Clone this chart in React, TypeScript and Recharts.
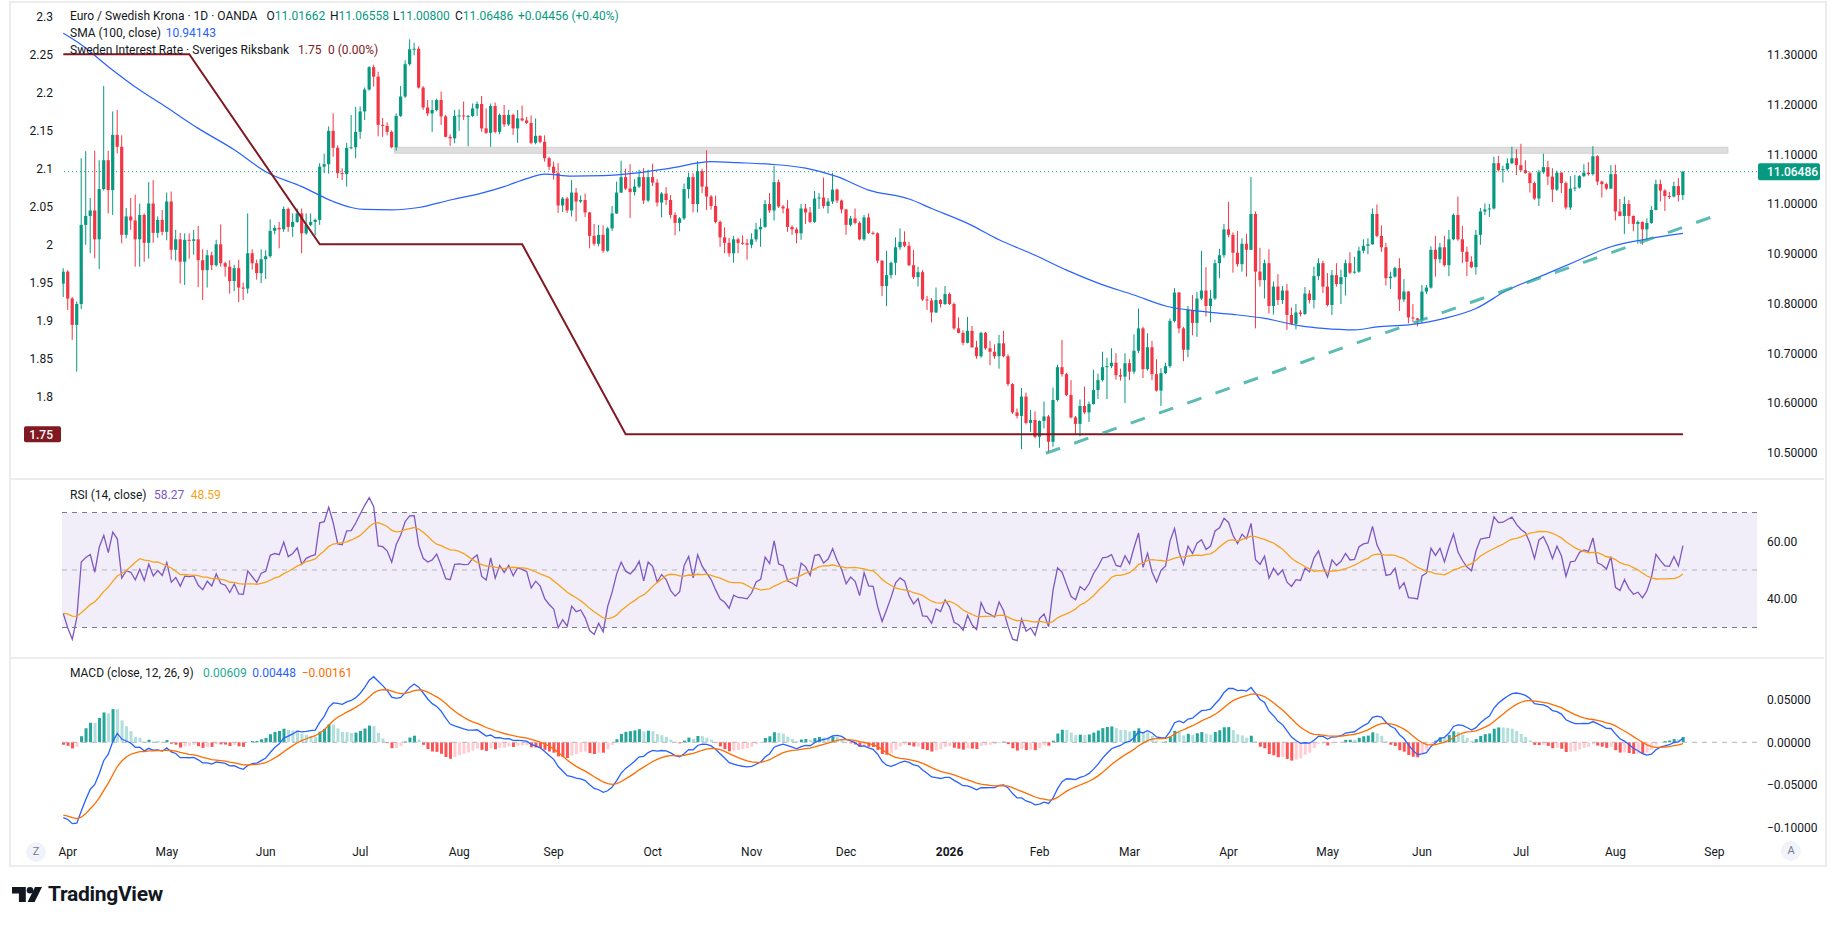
import React from 'react'
import {
  ComposedChart, Bar, Line, XAxis, YAxis, ReferenceLine, ReferenceArea, Cell
} from 'recharts'

const FONT = 'Roboto, "Liberation Sans", sans-serif'
const TEXT = '#131722'
const UP = '#089981'
const DOWN = '#f23645'
const RATE = '#801922'
const SMA = '#2962ff'
const RSI_C = '#7e57c2'
const RSI_MA = '#f7a21b'
const SIGNAL = '#ff6d00'

// daily closes, Mar 31 2025 .. Aug 21 2026 (open = previous close)
const firstOpen = 10.84
const closes = [
  10.864, 10.810, 10.757, 10.799, 10.958, 10.976, 10.987, 10.929, 11.030, 11.088,
  11.028, 11.139, 11.115, 10.938, 10.975, 10.967, 10.929, 10.978, 10.922, 11.001,
  10.942, 10.968, 10.944, 11.005, 10.908, 10.929, 10.884, 10.928, 10.926, 10.929,
  10.887, 10.867, 10.897, 10.877, 10.919, 10.881, 10.874, 10.845, 10.871, 10.832,
  10.830, 10.901, 10.881, 10.861, 10.889, 10.895, 10.946, 10.952, 10.949, 10.990,
  10.954, 10.964, 10.981, 10.941, 10.958, 10.964, 10.968, 11.075, 11.080, 11.147,
  11.113, 11.062, 11.060, 11.113, 11.114, 11.145, 11.186, 11.230, 11.275, 11.256,
  11.159, 11.157, 11.145, 11.114, 11.177, 11.216, 11.281, 11.311, 11.312, 11.234,
  11.194, 11.182, 11.189, 11.209, 11.176, 11.135, 11.132, 11.177, 11.178, 11.176,
  11.177, 11.192, 11.201, 11.152, 11.143, 11.197, 11.145, 11.179, 11.160, 11.179,
  11.152, 11.172, 11.168, 11.163, 11.123, 11.137, 11.125, 11.092, 11.075, 11.062,
  10.997, 11.011, 10.987, 11.023, 11.005, 11.008, 10.983, 10.936, 10.920, 10.938,
  10.906, 10.951, 10.981, 11.023, 11.054, 11.031, 11.024, 11.035, 11.054, 11.007,
  11.054, 11.043, 11.003, 11.021, 11.008, 10.978, 10.962, 10.971, 11.030, 11.054,
  11.000, 11.066, 11.035, 11.015, 10.996, 10.964, 10.933, 10.922, 10.901, 10.929,
  10.922, 10.921, 10.918, 10.929, 10.949, 10.954, 11.000, 10.987, 11.044, 10.995,
  10.991, 10.954, 10.949, 10.941, 10.991, 10.983, 10.964, 11.011, 11.013, 10.996,
  11.005, 11.029, 11.007, 10.989, 10.958, 10.971, 10.962, 10.929, 10.973, 10.942,
  10.941, 10.886, 10.835, 10.857, 10.882, 10.913, 10.924, 10.916, 10.877, 10.853,
  10.863, 10.808, 10.806, 10.782, 10.807, 10.799, 10.819, 10.799, 10.750, 10.741,
  10.721, 10.745, 10.712, 10.694, 10.741, 10.710, 10.703, 10.694, 10.720, 10.694,
  10.638, 10.581, 10.574, 10.613, 10.560, 10.566, 10.532, 10.564, 10.573, 10.522,
  10.606, 10.672, 10.658, 10.616, 10.571, 10.558, 10.594, 10.581, 10.598, 10.626,
  10.646, 10.672, 10.674, 10.681, 10.656, 10.653, 10.680, 10.663, 10.705, 10.750,
  10.668, 10.712, 10.658, 10.625, 10.660, 10.674, 10.765, 10.822, 10.750, 10.707,
  10.787, 10.761, 10.810, 10.826, 10.795, 10.810, 10.881, 10.897, 10.949, 10.938,
  10.902, 10.879, 10.920, 10.908, 10.980, 10.864, 10.847, 10.881, 10.795, 10.834,
  10.807, 10.826, 10.777, 10.759, 10.782, 10.779, 10.820, 10.807, 10.855, 10.881,
  10.834, 10.797, 10.857, 10.839, 10.853, 10.881, 10.862, 10.864, 10.906, 10.916,
  10.919, 10.980, 10.936, 10.913, 10.851, 10.854, 10.871, 10.808, 10.824, 10.772,
  10.770, 10.767, 10.824, 10.832, 10.908, 10.889, 10.913, 10.877, 10.929, 10.978,
  10.929, 10.904, 10.884, 10.873, 10.938, 10.985, 10.989, 10.991, 11.082, 11.068,
  11.070, 11.082, 11.092, 11.078, 11.068, 11.062, 11.042, 11.011, 11.064, 11.074,
  11.055, 11.029, 11.063, 11.042, 10.993, 11.031, 11.033, 11.056, 11.063, 11.060,
  11.096, 11.045, 11.040, 11.031, 11.060, 10.985, 10.976, 11.000, 10.976, 10.960,
  10.964, 10.949, 10.962, 10.988, 11.040, 11.027, 11.016, 11.015, 11.036, 11.018,
  11.065,
]

// wick lengths beyond the body, in 0.001 units
const wickUp = [
  7, 3, 3, 5, 134, 130, 25, 120, 58, 149,
  19, 47, 50, 23, 17, 37, 52, 23, 3, 43,
  47, 7, 20, 18, 20, 19, 13, 13, 13, 19,
  27, 22, 11, 7, 9, 40, 3, 13, 7, 17,
  10, 80, 8, 7, 20, 12, 23, 5, 12, 5,
  3, 17, 10, 10, 23, 17, 3, 7, 21, 9,
  35, 5, 10, 10, 65, 50, 10, 4, 2, 5,
  10, 14, 7, 3, 5, 21, 8, 20, 12, 5,
  3, 15, 20, 3, 17, 3, 5, 12, 12, 28,
  2, 10, 5, 16, 40, 5, 7, 3, 20, 10,
  3, 17, 26, 7, 15, 35, 1, 13, 3, 10,
  20, 3, 3, 25, 9, 9, 13, 1, 24, 20,
  19, 3, 15, 22, 33, 17, 49, 15, 15, 18,
  15, 27, 7, 3, 13, 10, 5, 3, 11, 9,
  8, 20, 5, 73, 3, 21, 3, 20, 10, 7,
  3, 15, 9, 12, 13, 17, 8, 22, 33, 5,
  3, 17, 3, 4, 9, 9, 11, 15, 9, 40,
  7, 33, 2, 2, 1, 5, 20, 3, 5, 8,
  3, 2, 1, 49, 2, 20, 27, 21, 8, 31,
  11, 4, 7, 5, 25, 2, 16, 3, 3, 22,
  5, 28, 10, 13, 2, 2, 15, 15, 17, 25,
  4, 2, 8, 17, 8, 20, 17, 1, 30, 3,
  25, 5, 55, 3, 30, 3, 13, 39, 5, 41,
  13, 31, 17, 29, 19, 13, 20, 8, 33, 40,
  3, 28, 13, 30, 10, 7, 5, 9, 1, 3,
  8, 30, 13, 80, 47, 17, 7, 13, 11, 55,
  5, 44, 11, 20, 74, 5, 48, 7, 28, 10,
  25, 9, 13, 15, 17, 5, 13, 7, 19, 10,
  5, 27, 10, 24, 15, 7, 22, 30, 8, 13,
  12, 11, 19, 21, 9, 10, 3, 20, 25, 1,
  27, 1, 13, 5, 7, 28, 9, 23, 19, 3,
  37, 27, 10, 11, 10, 7, 12, 9, 13, 15,
  7, 10, 23, 18, 43, 20, 3, 3, 5, 27,
  13, 17, 4, 1, 3, 25, 25, 2, 17, 21,
  20, 2, 2, 3, 18, 19, 25, 15, 8, 1,
  3, 1, 9, 8, 9, 9, 3, 8, 9, 16,
  1,
]
const wickDn = [
  27, 23, 30, 94, 10, 40, 75, 38, 60, 3,
  47, 50, 13, 17, 7, 19, 55, 55, 38, 32,
  20, 10, 7, 17, 20, 22, 44, 47, 36, 28,
  54, 60, 35, 10, 3, 7, 20, 25, 20, 29,
  23, 10, 13, 13, 20, 40, 3, 7, 38, 5,
  10, 20, 2, 40, 3, 3, 27, 10, 13, 19,
  18, 10, 12, 25, 3, 22, 14, 17, 2, 20,
  23, 22, 7, 2, 7, 2, 3, 3, 12, 2,
  5, 5, 37, 3, 17, 1, 15, 10, 30, 7,
  60, 2, 15, 7, 2, 28, 3, 5, 5, 3,
  13, 29, 2, 2, 3, 3, 3, 7, 7, 13,
  15, 13, 5, 12, 40, 3, 9, 25, 4, 5,
  4, 2, 5, 1, 1, 3, 52, 7, 3, 7,
  3, 7, 8, 30, 10, 7, 25, 17, 3, 19,
  17, 17, 13, 27, 7, 3, 19, 21, 7, 19,
  21, 3, 30, 7, 5, 35, 2, 5, 20, 3,
  10, 10, 11, 20, 13, 23, 2, 2, 21, 5,
  15, 5, 5, 8, 20, 3, 3, 2, 3, 2,
  3, 5, 20, 40, 7, 25, 5, 3, 2, 4,
  19, 3, 19, 20, 1, 7, 2, 2, 3, 1,
  5, 1, 1, 5, 3, 3, 27, 5, 25, 2,
  4, 3, 5, 67, 3, 18, 3, 22, 15, 20,
  10, 3, 5, 2, 2, 20, 25, 3, 19, 1,
  18, 3, 64, 4, 9, 8, 53, 17, 5, 5,
  18, 3, 12, 2, 31, 2, 3, 3, 10, 23,
  15, 25, 28, 3, 21, 33, 3, 30, 5, 5,
  40, 5, 15, 54, 1, 114, 13, 37, 15, 17,
  10, 8, 30, 2, 11, 5, 2, 7, 17, 8,
  13, 3, 20, 5, 40, 37, 3, 2, 2, 5,
  17, 1, 3, 9, 15, 22, 2, 23, 5, 12,
  7, 13, 7, 5, 2, 35, 8, 3, 22, 2,
  3, 23, 29, 2, 15, 20, 7, 15, 2, 3,
  25, 3, 2, 20, 3, 1, 19, 3, 15, 3,
  17, 25, 3, 20, 4, 5, 5, 2, 2, 3,
  3, 7, 27, 3, 1, 18, 1, 36, 16, 15,
  40, 31, 23, 2, 1, 22, 30, 5, 2, 13,
  10,
]

// SMA(100) (it needs history before the window)
const smaIdx = [0, 4, 10, 17, 23, 30, 38, 45, 53, 60, 64, 67, 73, 79, 86, 93, 98, 103, 107, 113,
  120, 127, 135, 144, 150, 157, 165, 172, 179, 188, 193, 201, 208, 216, 223, 230, 238, 245, 253, 260,
  267, 275, 280, 287, 292, 299, 307, 314, 321, 329, 336, 344, 351, 360]
const smaVal = [11.343, 11.320, 11.276, 11.229, 11.194, 11.152, 11.109, 11.065, 11.035, 11.005,
  10.993, 10.989, 10.988, 10.993, 11.008, 11.022, 11.035, 11.051, 11.060, 11.056,
  11.057, 11.062, 11.072, 11.085, 11.083, 11.080, 11.072, 11.055, 11.028, 11.010,
  10.991, 10.961, 10.928, 10.897, 10.867, 10.841, 10.817, 10.795, 10.784, 10.778,
  10.770, 10.755, 10.750, 10.747, 10.753, 10.757, 10.770, 10.790, 10.827, 10.857,
  10.884, 10.914, 10.928, 10.941]

// Riksbank policy rate (left scale)
const rateIdx = [0, 28, 57, 102, 125, 360]
const rateVal = [2.25, 2.25, 2.0, 2.0, 1.75, 1.75]

// drawn trend line and resistance zone
const trendIdx = [218.4, 366.6]
const trendVal = [10.499, 10.9745]
const zoneIdx = [73.6, 370]
const zoneVal = [11.102, 11.114]

const lastClose = 11.06486
const lastRate = 1.75

const monthIdx = [1, 23, 45, 66, 88, 109, 131, 153, 174, 197, 217, 237, 259, 281, 302, 324, 345, 367]
const monthLabels = ['Apr', 'May', 'Jun', 'Jul', 'Aug', 'Sep', 'Oct', 'Nov', 'Dec', '2026',
  'Feb', 'Mar', 'Apr', 'May', 'Jun', 'Jul', 'Aug', 'Sep']

const priceTicks = [10.5, 10.6, 10.7, 10.8, 10.9, 11.0, 11.1, 11.2, 11.3]
const rateTicks = [1.8, 1.85, 1.9, 1.95, 2.0, 2.05, 2.1, 2.15, 2.2, 2.25, 2.3]
const rsiTicks = [40, 60]
const macdTicks = [-0.1, -0.05, 0, 0.05]

// indicator state at the first bar
const rsiSeed = { gain: 0.0075, loss: 0.0175, ma: 35 }
const macdSeed = { ema12: 10.93, ema26: 11.02, signal: -0.085 }

const X_DOMAIN: [number, number] = [-0.289, 376.46]

type Row = {
  i: number; o: number; h: number; l: number; c: number; range: [number, number]
  rsi?: number; rsiMa?: number; macd?: number; signal?: number; hist?: number; histColor?: string
}

const rows: Row[] = closes.map((c, i) => {
  const o = i === 0 ? firstOpen : closes[i - 1]
  const h = Math.max(o, c) + wickUp[i] / 1000
  const l = Math.min(o, c) - wickDn[i] / 1000
  return { i, o, h, l, c, range: [l, h] }
})

{
  let g = rsiSeed.gain
  let ls = rsiSeed.loss
  const rsiArr: number[] = []
  rows.forEach((r) => {
    const ch = r.c - r.o
    g = (g * 13 + Math.max(ch, 0)) / 14
    ls = (ls * 13 + Math.max(-ch, 0)) / 14
    r.rsi = 100 - 100 / (1 + g / ls)
    rsiArr.push(r.rsi)
  })
  rows.forEach((r, i) => {
    const from = Math.max(0, i - 13)
    const win = rsiArr.slice(from, i + 1)
    const missing = 14 - win.length
    r.rsiMa = (win.reduce((a, b) => a + b, 0) + missing * rsiSeed.ma) / 14
  })
  let e12 = macdSeed.ema12
  let e26 = macdSeed.ema26
  let sig = macdSeed.signal
  let prevHist: number | null = null
  rows.forEach((r) => {
    e12 += (r.c - e12) * 2 / 13
    e26 += (r.c - e26) * 2 / 27
    const m = e12 - e26
    sig += (m - sig) * 0.2
    const hh = m - sig
    const p = prevHist === null ? hh : prevHist
    r.macd = m
    r.signal = sig
    r.hist = hh
    r.histColor = hh >= 0 ? (hh >= p ? '#26a69a' : '#b2dfdb') : (hh <= p ? '#ff5252' : '#ffcdd2')
    prevHist = hh
  })
}

const smaData = smaIdx.map((i, k) => ({ i, v: smaVal[k] }))
const rateData = rateIdx.map((i, k) => ({ i, v: rateVal[k] }))
const trendData = trendIdx.map((i, k) => ({ i, v: trendVal[k] }))

const Candle = (props: any) => {
  const { x, y, width, height, payload } = props
  if (!payload || height == null) return null
  const { o, c, h, l } = payload
  const color = c >= o ? UP : DOWN
  const k = height / (h - l)
  const cx = x + width / 2
  const top = y + (h - Math.max(o, c)) * k
  const bh = Math.max(1, Math.abs(o - c) * k)
  return (
    <g>
      <line x1={cx} x2={cx} y1={y} y2={y + height} stroke={color} strokeWidth={1} />
      <rect x={cx - 1.6} y={top} width={3.2} height={bh} fill={color} />
    </g>
  )
}

const PriceTag = (props: any) => {
  const vb = props.viewBox
  if (!vb) return null
  const x = vb.x + vb.width + 1
  return (
    <g>
      <rect x={x} y={vb.y - 8.5} width={62} height={17} rx={2} fill={UP} />
      <text x={x + 9} y={vb.y} dy="0.36em" fill="#fff" fontSize={12} fontFamily={FONT} fontWeight={500}>
        {lastClose.toFixed(5)}
      </text>
    </g>
  )
}

const RateTag = (props: any) => {
  const vb = props.viewBox
  if (!vb) return null
  return (
    <g>
      <rect x={vb.x - 38} y={vb.y - 8} width={37} height={16} rx={2} fill={RATE} />
      <text x={vb.x - 9} y={vb.y} dy="0.36em" textAnchor="end" fill="#fff" fontSize={12} fontFamily={FONT} fontWeight={500}>
        {lastRate.toFixed(2)}
      </text>
    </g>
  )
}

const MonthTick = (props: any) => {
  const { x, y, payload } = props
  const label = monthLabels[monthIdx.indexOf(payload.value)]
  return (
    <text x={x} y={y} dy={17.5} textAnchor="middle" fill={TEXT} fontSize={12} fontFamily={FONT}
      fontWeight={label === '2026' ? 700 : 400}>
      {label}
    </text>
  )
}

const tickStyle = { fill: TEXT, fontSize: 12, fontFamily: FONT }

const Txt = ({ x, y, color = TEXT, children }: any) => (
  <div style={{
    position: 'absolute', left: x, top: y - 7, lineHeight: '14px', fontSize: 12,
    color, whiteSpace: 'nowrap', fontFamily: FONT
  }}>{children}</div>
)

export default function App() {
  return (
    <div style={{ position: 'absolute', left: 0, top: 0, width: 1835, height: 925, background: '#fff', overflow: 'hidden' }}>
      {/* price pane */}
      <div style={{ position: 'absolute', left: 0, top: 3 }}>
        <ComposedChart width={1835} height={476} data={rows} margin={{ top: 0, right: 0, bottom: 0, left: 0 }}>
          <XAxis type="number" dataKey="i" domain={X_DOMAIN} allowDataOverflow hide />
          <YAxis yAxisId="rate" orientation="left" width={62} domain={[1.69118, 2.3175]} allowDataOverflow
            ticks={rateTicks} interval={0} tickSize={0} tickMargin={9} axisLine={false} tickLine={false}
            tick={tickStyle} tickFormatter={(v: number) => String(+v.toFixed(2))} />
          <YAxis yAxisId="price" orientation="right" width={78} domain={[10.44724, 11.404]} allowDataOverflow
            ticks={priceTicks} interval={0} tickSize={0} tickMargin={10} axisLine={false} tickLine={false}
            tick={tickStyle} tickFormatter={(v: number) => v.toFixed(5)} />
          <ReferenceArea yAxisId="price" x1={zoneIdx[0]} x2={zoneIdx[1]} y1={zoneVal[0]} y2={zoneVal[1]}
            fill="#dedede" fillOpacity={1} stroke="#d2d2d2" strokeWidth={1} />
          <Bar yAxisId="price" dataKey="range" barSize={3} shape={<Candle />} isAnimationActive={false} />
          <Line yAxisId="price" data={smaData} dataKey="v" type="monotone" stroke={SMA} strokeWidth={1.2}
            dot={false} activeDot={false} isAnimationActive={false} />
          <Line yAxisId="rate" data={rateData} dataKey="v" type="linear" stroke={RATE} strokeWidth={2}
            dot={false} activeDot={false} isAnimationActive={false} />
          <Line yAxisId="price" data={trendData} dataKey="v" type="linear" stroke="#26a69a" strokeOpacity={0.75}
            strokeWidth={3} strokeDasharray="15 15" dot={false} activeDot={false} isAnimationActive={false} />
          <ReferenceLine yAxisId="price" y={lastClose} stroke={UP} strokeDasharray="1 3" strokeWidth={1}
            label={<PriceTag />} />
          <ReferenceLine yAxisId="rate" y={lastRate} stroke="none" label={<RateTag />} />
        </ComposedChart>
      </div>

      {/* RSI pane */}
      <div style={{ position: 'absolute', left: 0, top: 479 }}>
        <ComposedChart width={1835} height={179} data={rows} margin={{ top: 0, right: 0, bottom: 0, left: 62 }}>
          <XAxis type="number" dataKey="i" domain={X_DOMAIN} allowDataOverflow hide />
          <YAxis orientation="right" width={78} domain={[19.391, 81.652]} allowDataOverflow ticks={rsiTicks}
            interval={0} tickSize={0} tickMargin={10} axisLine={false} tickLine={false} tick={tickStyle}
            tickFormatter={(v: number) => v.toFixed(2)} />
          <ReferenceArea y1={30} y2={70} fill={RSI_C} fillOpacity={0.1} stroke="none" />
          <ReferenceLine y={70} stroke="#787b86" strokeDasharray="5 5" />
          <ReferenceLine y={50} stroke="#787b86" strokeOpacity={0.5} strokeDasharray="5 5" />
          <ReferenceLine y={30} stroke="#787b86" strokeDasharray="5 5" />
          <Line dataKey="rsi" type="linear" stroke={RSI_C} strokeWidth={1.3} dot={false} activeDot={false}
            isAnimationActive={false} />
          <Line dataKey="rsiMa" type="linear" stroke={RSI_MA} strokeWidth={1.3} dot={false} activeDot={false}
            isAnimationActive={false} />
        </ComposedChart>
      </div>

      {/* MACD pane + time axis */}
      <div style={{ position: 'absolute', left: 0, top: 658 }}>
        <ComposedChart width={1835} height={207} data={rows} margin={{ top: 0, right: 0, bottom: 0, left: 62 }}>
          <XAxis type="number" dataKey="i" domain={X_DOMAIN} allowDataOverflow ticks={monthIdx} interval={0}
            height={27} tickSize={0} tickMargin={0} axisLine={false} tickLine={false} tick={<MonthTick />} />
          <YAxis orientation="right" width={78} domain={[-0.11259, 0.09918]} allowDataOverflow ticks={macdTicks}
            interval={0} tickSize={0} tickMargin={10} axisLine={false} tickLine={false} tick={tickStyle}
            tickFormatter={(v: number) => (v < 0 ? '\u2212' : '') + Math.abs(v).toFixed(5)} />
          <ReferenceLine y={0} stroke="#b2b5be" strokeDasharray="5 5" />
          <Bar dataKey="hist" barSize={3} isAnimationActive={false}>
            {rows.map((r) => <Cell key={r.i} fill={r.histColor} />)}
          </Bar>
          <Line dataKey="macd" type="linear" stroke={SMA} strokeWidth={1.3} dot={false} activeDot={false}
            isAnimationActive={false} />
          <Line dataKey="signal" type="linear" stroke={SIGNAL} strokeWidth={1.3} dot={false} activeDot={false}
            isAnimationActive={false} />
        </ComposedChart>
      </div>

      {/* frame and pane separators */}
      <div style={{ position: 'absolute', left: 9, top: 1, width: 1814, height: 862, border: '2px solid #ececec', pointerEvents: 'none' }} />
      <div style={{ position: 'absolute', left: 10, top: 478, width: 1814, height: 2, background: '#ececec' }} />
      <div style={{ position: 'absolute', left: 10, top: 657, width: 1814, height: 2, background: '#ececec' }} />

      {/* legends */}
      <Txt x={70} y={15.7}>Euro / Swedish Krona · 1D · OANDA</Txt>
      <Txt x={266.5} y={15.7}>O<span style={{ color: UP }}>11.01662</span></Txt>
      <Txt x={330} y={15.7}>H<span style={{ color: UP }}>11.06558</span></Txt>
      <Txt x={393} y={15.7}>L<span style={{ color: UP }}>11.00800</span></Txt>
      <Txt x={455} y={15.7}>C<span style={{ color: UP }}>11.06486</span></Txt>
      <Txt x={518} y={15.7} color={UP}>+0.04456 (+0.40%)</Txt>
      <Txt x={70} y={32.7}>SMA (100, close)</Txt>
      <Txt x={165.7} y={32.7} color={SMA}>10.94143</Txt>
      <Txt x={70} y={50}>Sweden Interest Rate · Sveriges Riksbank</Txt>
      <Txt x={298} y={50} color={RATE}>1.75</Txt>
      <Txt x={328} y={50} color={RATE}>0 (0.00%)</Txt>

      <Txt x={70} y={495}>RSI (14, close)</Txt>
      <Txt x={154} y={495} color={RSI_C}>58.27</Txt>
      <Txt x={190.7} y={495} color={RSI_MA}>48.59</Txt>

      <Txt x={70} y={673}>MACD (close, 12, 26, 9)</Txt>
      <Txt x={203} y={673} color="#22ab94">0.00609</Txt>
      <Txt x={252.3} y={673} color={SMA}>0.00448</Txt>
      <Txt x={301.7} y={673} color={SIGNAL}>{'\u2212'}0.00161</Txt>

      {/* scale buttons */}
      <div style={{ position: 'absolute', left: 26, top: 842, width: 20, height: 20, borderRadius: 10, background: '#f0f3fa',
        color: '#787b86', fontSize: 11, lineHeight: '20px', textAlign: 'center', fontFamily: FONT }}>Z</div>
      <div style={{ position: 'absolute', left: 1781, top: 841, width: 20, height: 20, borderRadius: 10, background: '#f0f3fa',
        color: '#787b86', fontSize: 11, lineHeight: '20px', textAlign: 'center', fontFamily: FONT }}>A</div>

      {/* TradingView mark */}
      <svg style={{ position: 'absolute', left: 12, top: 887 }} width={31} height={16} viewBox="0 0 31 16">
        <path d="M0 0 H13.8 V15 H6.9 V6.6 H0 Z" fill={TEXT} />
        <circle cx={18} cy={3.3} r={3.3} fill={TEXT} />
        <path d="M23 0 H30 L22.6 15 H15.6 Z" fill={TEXT} />
      </svg>
      <div style={{ position: 'absolute', left: 48, top: 881, fontSize: 21, fontWeight: 700, color: TEXT,
        fontFamily: FONT, lineHeight: '26px', letterSpacing: -0.3 }}>TradingView</div>
    </div>
  )
}
